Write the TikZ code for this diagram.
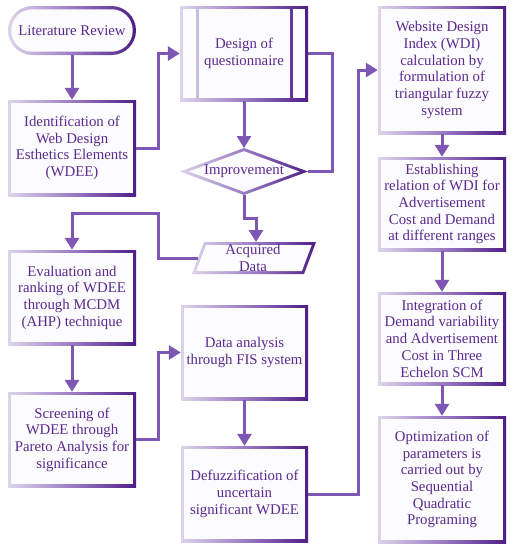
\documentclass[tikz,border=0pt]{standalone}
\usepackage{fontspec}
\setmainfont{Liberation Serif}
\usetikzlibrary{arrows.meta,calc}
\definecolor{lightB}{HTML}{DDD4EA}
\definecolor{darkB}{HTML}{4E1E86}
\definecolor{arr}{HTML}{7E57B4}
\definecolor{txt}{HTML}{5A2A8E}
\definecolor{boxfill}{HTML}{FCFBFD}
\newcommand{\boxfont}{\fontsize{14.8}{16.7}\selectfont}
\tikzset{
  bordershade/.style={left color=lightB, right color=darkB, middle color=arr!70!lightB},
  gbox/.style={minimum width=128pt, minimum height=95pt, inner sep=0pt, align=center,
    text=txt, font=\boxfont,
    path picture={
      \shade[bordershade] (path picture bounding box.south west) rectangle (path picture bounding box.north east);
      \fill[boxfill] ([shift={(3.3pt,3.3pt)}]path picture bounding box.south west) rectangle ([shift={(-3.3pt,-3.3pt)}]path picture bounding box.north east);
    }},
  pbox/.style={minimum width=128pt, minimum height=95pt, inner sep=0pt, align=center,
    text=txt, font=\boxfont,
    path picture={
      \shade[bordershade] (path picture bounding box.south west) rectangle (path picture bounding box.north east);
      \fill[boxfill] ([shift={(3.3pt,3.3pt)}]path picture bounding box.south west) rectangle ([shift={(15.5pt,-3.3pt)}]path picture bounding box.north west);
      \fill[boxfill] ([shift={(18.5pt,3.3pt)}]path picture bounding box.south west) rectangle ([shift={(-18.5pt,-3.3pt)}]path picture bounding box.north east);
      \fill[boxfill] ([shift={(-15.5pt,3.3pt)}]path picture bounding box.south east) rectangle ([shift={(-3.3pt,-3.3pt)}]path picture bounding box.north east);
    }},
  sbox/.style={minimum width=128pt, minimum height=49pt, inner sep=0pt, align=center,
    text=txt, font=\boxfont, rounded corners=24.5pt,
    path picture={
      \shade[bordershade] (path picture bounding box.south west) rectangle (path picture bounding box.north east);
      \fill[boxfill, rounded corners=21pt] ([shift={(3.3pt,3.3pt)}]path picture bounding box.south west) rectangle ([shift={(-3.3pt,-3.3pt)}]path picture bounding box.north east);
    }},
  plain/.style={inner sep=0pt, align=center, text=txt, font=\boxfont},
  conn/.style={draw=arr, line width=3pt},
  arrow/.style={conn, -{Triangle[width=14pt,length=12pt]}},
}
\begin{document}
\begin{tikzpicture}[x=1pt,y=-1pt]
\useasboundingbox (0,0) rectangle (514,550);
\fill[white] (0,0) rectangle (514,550);

% left column
\node[sbox] (lit) at (72,30.5) {Literature Review};
\node[gbox, minimum height=96pt] (ident) at (72,148) {Identification of\\Web Design\\Esthetics Elements\\(WDEE)};
\node[gbox] (eval) at (72,297.5) {Evaluation and\\ranking of WDEE\\through MCDM\\(AHP) technique};
\node[gbox] (screen) at (72,439.5) {Screening of\\WDEE through\\Pareto Analysis for\\significance};

% middle column
\node[pbox] (design) at (244,53.5) {Design of\\questionnaire};

% diamond
\shade[bordershade] (180,171.5) -- (244,148) -- (308,171.5) -- (244,195) -- cycle;
\fill[boxfill] (188.7,171.5) -- (244,151.2) -- (299.3,171.5) -- (244,191.8) -- cycle;
\node[plain] (imp) at (244,171.5) {Improvement};
\coordinate (impN) at (244,148);
\coordinate (impE) at (308,171.5);
\coordinate (impS) at (244,195);

% parallelogram
\shade[bordershade] (204,242) -- (316,242) -- (304,274) -- (192,274) -- cycle;
\fill[boxfill] (206.1,245) -- (311.7,245) -- (301.9,271) -- (196.3,271) -- cycle;
\node[plain] (acq) at (253,258) {Acquired\\Data};
\coordinate (acqN) at (256,242);
\coordinate (acqW) at (198,258);

\node[gbox, minimum width=127pt] (fis) at (244.5,352.5) {Data analysis\\through FIS system};
\node[gbox, minimum width=127pt, minimum height=96pt] (defuzz) at (244.5,494) {Defuzzification of\\uncertain\\significant WDEE};

% right column
\node[gbox, minimum height=128pt] (wdi) at (442,70) {Website Design\\Index (WDI)\\calculation by\\formulation of\\triangular fuzzy\\system};
\node[gbox, minimum height=94pt] (estab) at (442,204) {Establishing\\relation of WDI for\\Advertisement\\Cost and Demand\\at different ranges};
\node[gbox, minimum height=93pt] (integ) at (442,338.5) {Integration of\\Demand variability\\and Advertisement\\Cost in Three\\Echelon SCM};
\node[gbox, minimum height=127pt] (optim) at (442,479.5) {Optimization of\\parameters is\\carried out by\\Sequential\\Quadratic\\Programing};

% connectors
\draw[arrow] (lit.south) -- (ident.north);
\draw[arrow] (ident.east) -- ++(22,0) |- (design.west);
\draw[arrow] (design.south) -- (impN);
\draw[conn] (impE) -- (332,171.5) |- (design.east);
\draw[arrow] (impS) -- (244,218) -| (acqN);
\draw[arrow] (acqW) -- (158,258) -- (158,213) -| (eval.north);
\draw[arrow] (eval.south) -- (screen.north);
\draw[arrow] (screen.east) -- ++(22,0) |- (fis.west);
\draw[arrow] (fis.south) -- (defuzz.north);
\draw[arrow] (defuzz.east) -- (358,494) |- (wdi.west);
\draw[arrow] (wdi.south) -- (estab.north);
\draw[arrow] (estab.south) -- (integ.north);
\draw[arrow] (integ.south) -- (optim.north);
\end{tikzpicture}
\end{document}
